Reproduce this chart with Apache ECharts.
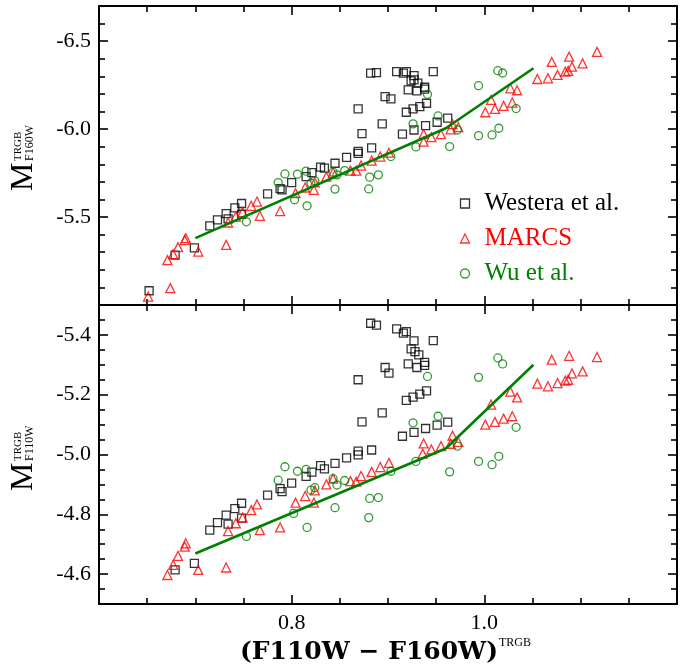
<!DOCTYPE html>
<html><head><meta charset="utf-8">
<script src="https://cdn.jsdelivr.net/npm/echarts@6/dist/echarts.min.js"></script>
<style>html,body{margin:0;padding:0;background:#fff}#c{width:697px;height:666px}</style>
</head><body><div id="c"></div>
<script>
// ---- data: [colour, magnitude] ----
const westeraF160W = [[0.652,-5.081],[0.679,-5.284],[0.699,-5.325],[0.715,-5.450],[0.723,-5.484],[0.732,-5.520],[0.734,-5.490],[0.741,-5.552],[0.748,-5.577],[0.748,-5.516],[0.775,-5.632],[0.788,-5.662],[0.790,-5.655],[0.800,-5.696],[0.815,-5.730],[0.821,-5.753],[0.830,-5.784],[0.834,-5.778],[0.845,-5.806],[0.857,-5.839],[0.869,-5.873],[0.869,-5.862],[0.883,-5.893],[0.873,-5.974],[0.894,-6.030],[0.869,-6.115],[0.897,-6.185],[0.903,-6.172],[0.882,-6.318],[0.888,-6.321],[0.909,-6.327],[0.916,-6.318],[0.919,-6.327],[0.927,-6.304],[0.924,-6.274],[0.927,-6.280],[0.931,-6.261],[0.921,-6.223],[0.930,-6.217],[0.938,-6.238],[0.938,-6.227],[0.947,-6.327],[0.940,-6.147],[0.933,-6.128],[0.926,-6.115],[0.919,-6.096],[0.962,-6.062],[0.951,-6.039],[0.939,-6.020],[0.927,-5.995],[0.915,-5.971]];
const marcsF160W = [[0.651,-5.048],[0.674,-5.096],[0.671,-5.255],[0.677,-5.289],[0.682,-5.329],[0.689,-5.369],[0.690,-5.380],[0.703,-5.304],[0.732,-5.342],[0.734,-5.469],[0.742,-5.503],[0.749,-5.528],[0.758,-5.564],[0.764,-5.588],[0.767,-5.507],[0.788,-5.534],[0.804,-5.636],[0.814,-5.668],[0.823,-5.655],[0.824,-5.698],[0.836,-5.730],[0.843,-5.753],[0.861,-5.764],[0.867,-5.764],[0.872,-5.793],[0.883,-5.821],[0.892,-5.844],[0.901,-5.866],[0.937,-5.929],[0.937,-5.971],[0.945,-5.954],[0.955,-5.971],[0.965,-5.999],[0.967,-6.028],[0.973,-6.011],[1.001,-6.096],[1.011,-6.115],[1.020,-6.132],[1.029,-6.151],[1.007,-6.166],[1.027,-6.232],[1.034,-6.221],[1.055,-6.285],[1.066,-6.289],[1.076,-6.308],[1.084,-6.327],[1.087,-6.331],[1.091,-6.355],[1.070,-6.382],[1.088,-6.412],[1.102,-6.374],[1.117,-6.439]];
const wuF160W = [[0.753,-5.473],[0.786,-5.696],[0.793,-5.745],[0.803,-5.598],[0.806,-5.744],[0.816,-5.564],[0.815,-5.761],[0.820,-5.693],[0.824,-5.706],[0.843,-5.755],[0.847,-5.740],[0.845,-5.659],[0.855,-5.764],[0.881,-5.727],[0.890,-5.740],[0.880,-5.660],[0.903,-5.844],[0.929,-5.899],[0.926,-6.030],[0.941,-6.198],[0.952,-6.075],[0.964,-5.901],[0.972,-5.995],[0.994,-5.963],[1.008,-5.967],[1.015,-6.005],[0.994,-6.247],[1.014,-6.332],[1.019,-6.319],[1.033,-6.117]];
const fitF160W = [[0.700,-5.380],[0.960,-6.005],[1.051,-6.346]];

const westeraF110W = [[0.679,-4.614],[0.699,-4.636],[0.715,-4.747],[0.723,-4.772],[0.732,-4.797],[0.734,-4.767],[0.741,-4.819],[0.748,-4.837],[0.748,-4.787],[0.775,-4.864],[0.788,-4.886],[0.790,-4.876],[0.800,-4.904],[0.815,-4.927],[0.821,-4.941],[0.830,-4.963],[0.834,-4.952],[0.845,-4.970],[0.857,-4.989],[0.869,-5.011],[0.869,-4.999],[0.883,-5.015],[0.873,-5.109],[0.894,-5.139],[0.869,-5.250],[0.897,-5.291],[0.901,-5.272],[0.882,-5.439],[0.888,-5.433],[0.909,-5.420],[0.916,-5.406],[0.919,-5.411],[0.927,-5.380],[0.924,-5.353],[0.928,-5.344],[0.932,-5.333],[0.921,-5.303],[0.930,-5.291],[0.938,-5.308],[0.938,-5.298],[0.947,-5.381],[0.940,-5.213],[0.933,-5.202],[0.926,-5.192],[0.919,-5.181],[0.962,-5.108],[0.951,-5.098],[0.939,-5.087],[0.927,-5.074],[0.915,-5.061]];
const marcsF110W = [[0.671,-4.597],[0.677,-4.631],[0.682,-4.661],[0.689,-4.692],[0.690,-4.703],[0.703,-4.614],[0.732,-4.622],[0.734,-4.744],[0.742,-4.770],[0.749,-4.789],[0.758,-4.814],[0.764,-4.833],[0.767,-4.747],[0.788,-4.756],[0.804,-4.839],[0.814,-4.861],[0.823,-4.839],[0.824,-4.880],[0.836,-4.900],[0.843,-4.919],[0.861,-4.911],[0.867,-4.909],[0.872,-4.928],[0.883,-4.942],[0.892,-4.958],[0.901,-4.972],[0.936,-5.003],[0.937,-5.037],[0.945,-5.017],[0.955,-5.028],[0.965,-5.036],[0.967,-5.063],[0.973,-5.042],[1.001,-5.100],[1.011,-5.109],[1.020,-5.120],[1.029,-5.128],[1.007,-5.167],[1.027,-5.210],[1.034,-5.191],[1.055,-5.237],[1.066,-5.228],[1.076,-5.239],[1.084,-5.247],[1.087,-5.250],[1.091,-5.271],[1.102,-5.278],[1.070,-5.317],[1.088,-5.330],[1.117,-5.326]];
const wuF110W = [[0.753,-4.726],[0.786,-4.914],[0.793,-4.959],[0.802,-4.803],[0.806,-4.944],[0.816,-4.756],[0.815,-4.950],[0.820,-4.881],[0.824,-4.889],[0.843,-4.919],[0.847,-4.898],[0.845,-4.822],[0.855,-4.913],[0.881,-4.853],[0.890,-4.856],[0.880,-4.789],[0.903,-4.944],[0.929,-4.977],[0.926,-5.106],[0.941,-5.261],[0.952,-5.128],[0.964,-4.942],[0.972,-5.028],[0.994,-4.977],[1.008,-4.966],[1.015,-4.994],[0.994,-5.258],[1.014,-5.323],[1.019,-5.303],[1.033,-5.091]];
const fitF110W = [[0.700,-4.669],[0.960,-5.020],[1.051,-5.300]];

// ---- ticks ----
const xMajorTicks = [0.6, 0.8, 1.0, 1.2];
const xMinorTicks = [0.65, 0.7, 0.75, 0.85, 0.9, 0.95, 1.05, 1.1, 1.15];
const xTickLabels = [0.8, 1.0];
const topYMajor = [-6.5, -6.0, -5.5];
const topYMinor = [-6.6, -6.4, -6.3, -6.2, -6.1, -5.9, -5.8, -5.7, -5.6, -5.4, -5.3, -5.2, -5.1];
const botYMajor = [-5.4, -5.2, -5.0, -4.8, -4.6];
const botYMinor = [-5.45, -5.35, -5.3, -5.25, -5.15, -5.1, -5.05, -4.95, -4.9, -4.85, -4.75, -4.7, -4.65, -4.55];
const seriesNames = ['Westera et al.', 'MARCS', 'Wu et al.'];

const FONT = 'Liberation Serif';
const BLACK = '#000000', RED = '#ff0000', GREEN = '#008000';

function axis(kind, grid, pos, range, ticks, len, showLine, labels, inverse) {
  const a = {
    type: 'value', gridIndex: grid, position: pos, min: range[0], max: range[1],
    inverse: !!inverse,
    axisLine: { show: showLine, onZero: false, lineStyle: { color: BLACK, width: 2 } },
    axisTick: { show: true, inside: true, length: len, customValues: ticks, lineStyle: { color: BLACK, width: 1.6 } },
    axisLabel: { show: false },
    splitLine: { show: false }
  };
  if (labels) {
    a.axisLabel = { show: true, customValues: labels, margin: 8, color: BLACK,
      fontFamily: FONT, fontSize: 22, formatter: v => Number(v).toFixed(1) };
  }
  return a;
}
const XR = [0.6, 1.2], TYR = [-6.7, -5.0], BYR = [-5.5, -4.5];
const xAxes = [
  axis('x', 0, 'bottom', XR, xMajorTicks, 9, true, null),
  axis('x', 0, 'bottom', XR, xMinorTicks, 6, false, null),
  axis('x', 0, 'top', XR, xMajorTicks, 9, true, null),
  axis('x', 0, 'top', XR, xMinorTicks, 6, false, null),
  axis('x', 1, 'bottom', XR, xMajorTicks, 9, true, xTickLabels),
  axis('x', 1, 'bottom', XR, xMinorTicks, 6, false, null),
  axis('x', 1, 'top', XR, xMajorTicks, 9, true, null),
  axis('x', 1, 'top', XR, xMinorTicks, 6, false, null)
];
const yAxes = [
  axis('y', 0, 'left', TYR, topYMajor, 9, true, topYMajor, true),
  axis('y', 0, 'left', TYR, topYMinor, 6, false, null, true),
  axis('y', 0, 'right', TYR, topYMajor, 9, true, null, true),
  axis('y', 0, 'right', TYR, topYMinor, 6, false, null, true),
  axis('y', 1, 'left', BYR, botYMajor, 9, true, botYMajor, true),
  axis('y', 1, 'left', BYR, botYMinor, 6, false, null, true),
  axis('y', 1, 'right', BYR, botYMajor, 9, true, null, true),
  axis('y', 1, 'right', BYR, botYMinor, 6, false, null, true)
];

function scat(name, data, symbol, size, color, xi, yi) {
  return { type: 'scatter', name, data, symbol, symbolSize: size, xAxisIndex: xi, yAxisIndex: yi,
    itemStyle: { color: 'none', borderColor: color, borderWidth: 1.3 },
    emphasis: { disabled: true }, z: 3 };
}
function fit(data, xi, yi) {
  return { type: 'line', name: 'fit', data, xAxisIndex: xi, yAxisIndex: yi, symbol: 'none',
    lineStyle: { color: GREEN, width: 2.6 }, emphasis: { disabled: true }, z: 5 };
}
const TXT = (text, font, align) => ({ text, font, fill: BLACK, align, verticalAlign: 'middle', textAlign: align, textVerticalAlign: 'middle' });

const opt = {
  animation: false,
  backgroundColor: '#ffffff',
  grid: [
    { left: 99, right: 20, top: 6, height: 299 },
    { left: 99, right: 20, top: 305, height: 299 }
  ],
  xAxis: xAxes,
  yAxis: yAxes,
  legend: {
    orient: 'vertical', left: 453, top: 186, itemWidth: 9, itemHeight: 9, itemGap: 10,
    selectedMode: false,
    textStyle: { fontFamily: FONT, fontSize: 25, padding: [0, 0, 0, 10] },
    data: [
      { name: seriesNames[0], icon: 'rect', itemStyle: { color: 'none', borderColor: BLACK, borderWidth: 1.3 }, textStyle: { color: BLACK } },
      { name: seriesNames[1], icon: 'triangle', itemStyle: { color: 'none', borderColor: RED, borderWidth: 1.3 }, textStyle: { color: RED } },
      { name: seriesNames[2], icon: 'circle', itemStyle: { color: 'none', borderColor: GREEN, borderWidth: 1.3 }, textStyle: { color: GREEN } }
    ]
  },
  series: [
    scat(seriesNames[0], westeraF160W, 'rect', 8, BLACK, 0, 0),
    scat(seriesNames[1], marcsF160W, 'triangle', 9, RED, 0, 0),
    scat(seriesNames[2], wuF160W, 'circle', 8, GREEN, 0, 0),
    fit(fitF160W, 0, 0),
    scat(seriesNames[0], westeraF110W, 'rect', 8, BLACK, 4, 4),
    scat(seriesNames[1], marcsF110W, 'triangle', 9, RED, 4, 4),
    scat(seriesNames[2], wuF110W, 'circle', 8, GREEN, 4, 4),
    fit(fitF110W, 4, 4)
  ],
  graphic: [
    { type: 'group', x: 24, y: 191, rotation: Math.PI / 2, children: [
      { type: 'text', x: 0, y: 0, style: TXT('M', '32px "Liberation Serif"', 'left') },
      { type: 'text', x: 30, y: -6, style: TXT('TRGB', '11px "Liberation Serif"', 'left') },
      { type: 'text', x: 30, y: 6, style: TXT('F160W', '12px "Liberation Serif"', 'left') }
    ]},
    { type: 'group', x: 24, y: 491, rotation: Math.PI / 2, children: [
      { type: 'text', x: 0, y: 0, style: TXT('M', '32px "Liberation Serif"', 'left') },
      { type: 'text', x: 30, y: -6, style: TXT('TRGB', '11px "Liberation Serif"', 'left') },
      { type: 'text', x: 30, y: 6, style: TXT('F110W', '12px "Liberation Serif"', 'left') }
    ]},
    { type: 'text', x: 498, y: 652, style: TXT('(F110W \u2212 F160W)', 'bold 25px "DejaVu Serif"', 'right') },
    { type: 'text', x: 499, y: 643, style: TXT('TRGB', '12px "Liberation Serif"', 'left') }
  ]
};
const chart = echarts.init(document.getElementById('c'), null, { renderer: 'canvas' });
chart.setOption(opt);
</script>
</body></html>
